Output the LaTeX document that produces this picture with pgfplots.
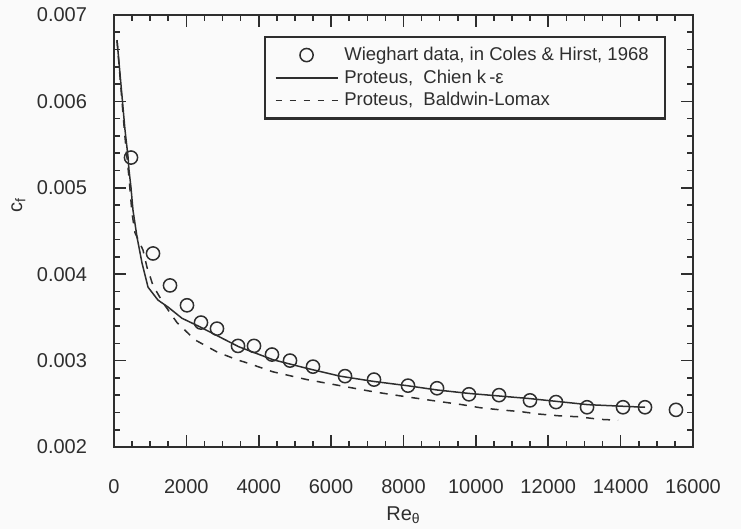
\documentclass[border=0pt]{standalone}
\usepackage{fontspec}
\setmainfont{Liberation Sans}
\usepackage{pgfplots}
\pgfplotsset{compat=1.18}
\definecolor{ink}{gray}{0.18}
\pgfplotsset{
  legline/.style={legend image code/.code={\draw[##1] (0pt,0pt) -- (31pt,0pt);}},
  legdash/.style={legend image code/.code={\draw[##1, dash pattern=on 3pt off 4pt] (0pt,0pt) -- (31pt,0pt);}},
  legmark/.style={legend image code/.code={\draw[##1] plot coordinates {(15.5pt,0pt)};}},
}
\begin{document}
\begin{tikzpicture}
\fill[black!2] (-57pt,-41pt) rectangle (313.5pt,223.5pt);
\begin{axis}[
  at={(0,0)}, anchor=south west,
  scale only axis, width=289.5pt, height=216pt,
  xmin=0, xmax=16000, ymin=0.002, ymax=0.007,
  xtick={0,2000,4000,6000,8000,10000,12000,14000,16000},
  minor x tick num=3,
  ytick={0.002,0.003,0.004,0.005,0.006,0.007},
  minor y tick num=4,
  tick align=inside, tick pos=both,
  major tick length=6pt, minor tick length=3pt,
  every tick/.style={ink, line width=0.8pt},
  axis line style={ink, line width=1pt},
  scaled ticks=false,
  /pgf/number format/assume math mode=true,
  tick label style={font=\fontsize{10}{12}\selectfont, text=ink},
  xticklabel style={/pgf/number format/1000 sep={}, yshift=-12.5pt},
  yticklabel style={/pgf/number format/fixed, /pgf/number format/precision=3, /pgf/number format/fixed zerofill, xshift=-10pt},
  xlabel={Re\textsubscript{θ}},
  ylabel={c\textsubscript{f}},
  label style={font=\fontsize{10}{12}\selectfont, text=ink},
  xlabel style={at={(axis description cs:0.5,-0.169)}, anchor=base},
  ylabel style={at={(axis description cs:-0.165,0.56)}, anchor=center},
  legend cell align=left,
  legend style={at={(axis description cs:0.953,0.951)}, anchor=north east,
    draw=ink, line width=1.1pt, fill=none, font=\fontsize{9.25}{11}\selectfont, text=ink,
    inner xsep=5pt, inner ysep=3.8pt, row sep=1.2pt,
    nodes={inner sep=1pt, inner xsep=3pt}},
]
\addplot[only marks, mark=o, mark size=3.3pt, ink, line width=0.75pt, legmark]
coordinates {
(470,0.00535) (1078,0.00424) (1548,0.00387) (2017,0.00364) (2404,0.00344)
(2846,0.00337) (3427,0.00317) (3869,0.00317) (4366,0.00307) (4864,0.00300)
(5499,0.00293) (6384,0.00282) (7185,0.00278) (8125,0.00271) (8927,0.00268)
(9810,0.00261) (10640,0.00260) (11496,0.00254) (12215,0.00252) (13072,0.00246)
(14066,0.00246) (14674,0.00246) (15530,0.00243)
};
\addlegendentry{Wieghart data, in Coles \& Hirst, 1968}
\addplot[ink, line width=0.75pt, no marks, legline]
coordinates {
(83,0.00671) (200,0.00616) (304,0.00567) (387,0.00536) (414,0.00521)
(470,0.00500) (525,0.00474) (636,0.00443) (774,0.00413) (940,0.00385)
(1216,0.00370) (1492,0.00362) (1879,0.00349) (2377,0.00339) (3450,0.00316)
(4394,0.00301) (5333,0.00291) (6245,0.00282) (7157,0.00276) (8097,0.00271)
(8927,0.00266) (9810,0.00262) (11496,0.00256) (13099,0.00249) (14674,0.00246)
};
\addlegendentry{Proteus,\ \ Chien k\,-ε}
\addplot[ink, line width=0.75pt, no marks, dash pattern=on 4pt off 4pt, legdash]
coordinates {
(83,0.00671) (300,0.00560) (414,0.00512) (497,0.00471) (580,0.00448)
(801,0.00428) (912,0.00408) (1078,0.00387) (1354,0.00367) (1741,0.00344)
(2238,0.00324) (2846,0.00310) (3399,0.00301) (3703,0.00297) (4394,0.00287)
(5333,0.00278) (6245,0.00271) (7157,0.00264) (8097,0.00258) (8927,0.00253)
(9617,0.00249) (10114,0.002455) (10667,0.00243) (11220,0.00241) (11773,0.00238)
(12326,0.00236) (12823,0.00235) (13431,0.00232) (13928,0.00231)
};
\addlegendentry{Proteus,\ \ Baldwin-Lomax}
\end{axis}
\end{tikzpicture}
\end{document}
